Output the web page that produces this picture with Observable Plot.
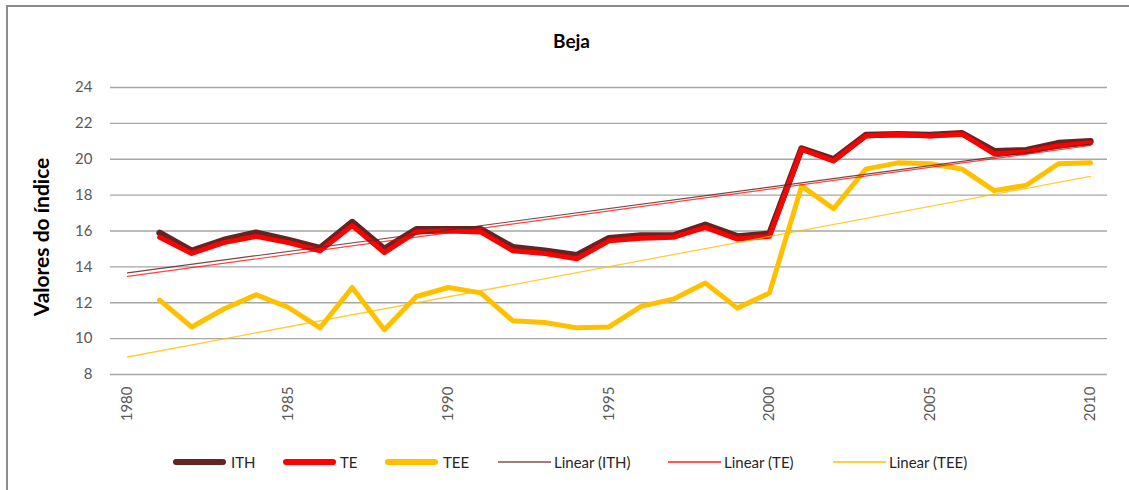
<!DOCTYPE html>
<html>
<head>
<meta charset="utf-8">
<script src="https://cdn.jsdelivr.net/npm/d3@7"></script>
<script src="https://cdn.jsdelivr.net/npm/@observablehq/plot@0.6"></script>
<style>
  html, body { margin: 0; padding: 0; background: #fff; }
  #wrap { position: relative; width: 1129px; height: 490px; overflow: hidden; background: #fff; font-family: Lato, "Open Sans", sans-serif; }
  #frame { position: absolute; left: 6px; top: 5px; width: 1200px; height: 600px; border-left: 2px solid #8c8c8c; border-top: 2px solid #8c8c8c; }
  #title { position: absolute; left: 0; width: 1143px; top: 29px; text-align: center; font-weight: bold; font-size: 19px; color: #000; }
  #chart { position: absolute; left: 0; top: 60px; }
  .lg { position: absolute; top: 452px; height: 20px; font-size: 15px; color: #262626; line-height: 20px; white-space: nowrap; }
  .sw { position: absolute; top: 461px; border-radius: 3px; }
</style>
</head>
<body>
<div id="wrap">
  <div id="frame"></div>
  <div id="title">Beja</div>
  <div id="chart"></div>
  <div id="legend"></div>
</div>
<script>
// ---- data ----
const years = d3.range(1981, 2011);
const ITH = [15.9,14.9,15.5,15.9,15.5,15.05,16.5,15.0,16.1,16.1,16.1,15.1,14.9,14.65,15.6,15.75,15.75,16.35,15.7,15.85,20.6,20.0,21.35,21.4,21.35,21.45,20.45,20.5,20.9,21.0];
const TE  = [15.65,14.75,15.35,15.7,15.35,14.9,16.3,14.8,15.95,16.0,15.95,14.9,14.75,14.45,15.45,15.6,15.65,16.2,15.55,15.7,20.55,19.9,21.3,21.4,21.3,21.4,20.3,20.4,20.75,20.9];
const TEE = [12.15,10.65,11.65,12.45,11.75,10.6,12.85,10.5,12.35,12.85,12.55,11.0,10.9,10.6,10.65,11.8,12.2,13.1,11.7,12.55,18.5,17.25,19.45,19.8,19.75,19.45,18.25,18.55,19.75,19.8];
const seriesNames = ["ITH", "TE", "TEE"];
const seriesColors = ["#632523", "#ff0000", "#ffc000"];
const xTicks = [1980, 1985, 1990, 1995, 2000, 2005, 2010];
const yTicks = [8, 10, 12, 14, 16, 18, 20, 22, 24];
const trendSpan = [1980, 2010];

// ---- tables ----
const rows = (vals, name) => years.map((x, i) => ({x, y: vals[i], s: name}));
const dITH = rows(ITH, "ITH"), dTE = rows(TE, "TE"), dTEE = rows(TEE, "TEE");
function trend(vals, name) {
  const mx = d3.mean(years), my = d3.mean(vals);
  let num = 0, den = 0;
  years.forEach((x, i) => { num += (x - mx) * (vals[i] - my); den += (x - mx) ** 2; });
  const b = num / den, a = my - b * mx;
  return trendSpan.map(x => ({x, y: a + b * x, s: name}));
}
const tITH = trend(ITH, "ITH"), tTE = trend(TE, "TE"), tTEE = trend(TEE, "TEE");

const chart = Plot.plot({
  width: 1129,
  height: 370,
  marginLeft: 110,
  marginRight: 22,
  marginTop: 27,
  marginBottom: 56,
  x: {domain: [1979.47, 2010.53]},
  y: {domain: [8, 24]},
  style: {fontFamily: "Lato, 'Open Sans', sans-serif", fontSize: "15px", color: "#595959", background: "transparent", overflow: "visible"},
  marks: [
    Plot.gridY(yTicks, {stroke: "#a6a6a6", strokeOpacity: 1, strokeWidth: 1.3}),
    Plot.line(dITH, {x: "x", y: "y", stroke: seriesColors[0], strokeWidth: 6.5, strokeLinejoin: "round", strokeLinecap: "round"}),
    Plot.line(dTE, {x: "x", y: "y", stroke: seriesColors[1], strokeWidth: 5, strokeLinejoin: "round", strokeLinecap: "round"}),
    Plot.line(dTEE, {x: "x", y: "y", stroke: seriesColors[2], strokeWidth: 5, strokeLinejoin: "round", strokeLinecap: "round"}),
    Plot.line(tITH, {x: "x", y: "y", stroke: seriesColors[0], strokeWidth: 1.2, strokeOpacity: 0.85}),
    Plot.line(tTE, {x: "x", y: "y", stroke: seriesColors[1], strokeWidth: 1.2, strokeOpacity: 0.75}),
    Plot.line(tTEE, {x: "x", y: "y", stroke: seriesColors[2], strokeWidth: 1.3, strokeOpacity: 0.8}),
    Plot.axisY(yTicks, {tickSize: 0, tickPadding: 18, label: null, fill: "#595959"}),
    Plot.axisX(xTicks, {tickSize: 0, tickPadding: 12, tickRotate: -90, tickFormat: d => String(d), label: null, fill: "#595959"}),
    Plot.text(["Valores do índice"], {frameAnchor: "left", textAnchor: "middle", dx: -68, dy: 6, rotate: -90, fontWeight: "bold", fontSize: 21, fill: "#000"})
  ]
});
document.getElementById("chart").appendChild(chart);

// ---- legend ----
const legendItems = [
  {label: "ITH", color: seriesColors[0], thick: true, sx: 173, tx: 231},
  {label: "TE", color: seriesColors[1], thick: true, sx: 283, tx: 340},
  {label: "TEE", color: seriesColors[2], thick: true, sx: 385, tx: 443},
  {label: "Linear (ITH)", color: seriesColors[0], thick: false, sx: 498, tx: 554, op: 0.6},
  {label: "Linear (TE)", color: seriesColors[1], thick: false, sx: 668, tx: 724, op: 0.65},
  {label: "Linear (TEE)", color: seriesColors[2], thick: false, sx: 833, tx: 889, op: 0.75}
];
const lg = document.getElementById("legend");
legendItems.forEach(it => {
  const sw = document.createElement("div");
  sw.className = "sw";
  sw.style.left = it.sx + "px";
  sw.style.width = "53px";
  sw.style.background = it.color;
  if (it.thick) { sw.style.height = "6px"; sw.style.top = "459px"; }
  else { sw.style.height = "2px"; sw.style.top = "461px"; sw.style.opacity = it.op; sw.style.borderRadius = "0"; }
  lg.appendChild(sw);
  const t = document.createElement("div");
  t.className = "lg";
  t.style.left = it.tx + "px";
  t.textContent = it.label;
  lg.appendChild(t);
});
</script>
</body>
</html>
